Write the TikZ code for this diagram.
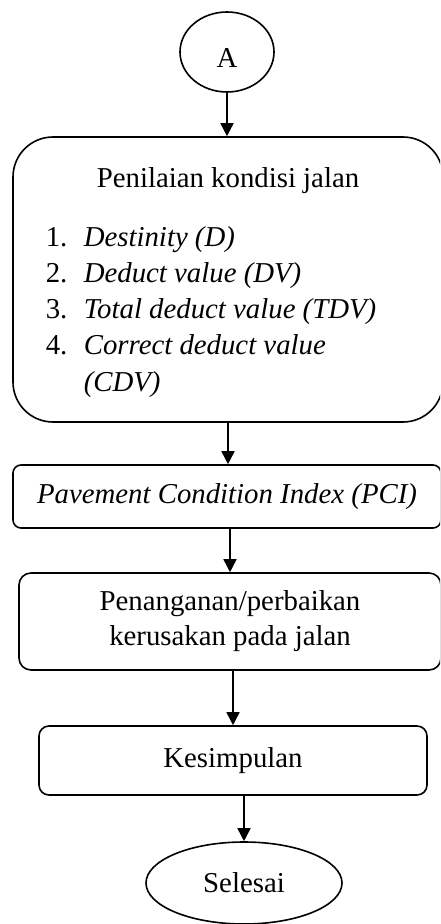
\documentclass[tikz,border=0pt]{standalone}
\usepackage{fontspec}
\setmainfont{Liberation Serif}
\usetikzlibrary{shapes.geometric,arrows.meta}
\begin{document}
\begin{tikzpicture}[x=0.5pt,y=-0.5pt,line width=0.8pt,
  font=\fontsize{14.4}{17.5}\selectfont,
  >={Triangle[width=6.5pt,length=6.5pt]},
  kotak/.style={draw,rounded corners=#1,inner sep=0pt},
  oval/.style={draw,ellipse,inner sep=0pt},
  teks/.style={inner sep=0pt}]
\useasboundingbox (0,0) rectangle (440,924);
\clip (0,0) rectangle (440,924);
% simbol awal
\node[oval,minimum width=47pt,minimum height=40pt,text height=15.5pt] (A) at (227,52) {A};
% penilaian kondisi
\node[kotak=20pt,minimum width=215pt,minimum height=142.5pt] (nilai) at (228,279.5) {};
\node[teks,anchor=base] (judul) at (228,188) {Penilaian kondisi jalan};
\node[teks,anchor=base west] (n1) at (45,247) {1.};
\node[teks,anchor=base west] (t1) at (83,247) {\textit{Destinity (D)}};
\node[teks,anchor=base west] (n2) at (45,283) {2.};
\node[teks,anchor=base west] (t2) at (83,283) {\textit{Deduct value (DV)}};
\node[teks,anchor=base west] (n3) at (45,319) {3.};
\node[teks,anchor=base west] (t3) at (83,319) {\textit{Total deduct value (TDV)}};
\node[teks,anchor=base west] (n4) at (45,355) {4.};
\node[teks,anchor=base west] (t4) at (83,355) {\textit{Correct deduct value}};
\node[teks,anchor=base west] (t5) at (83,391) {\textit{(CDV)}};
% PCI
\node[kotak=4pt,minimum width=214pt,minimum height=31.5pt] (pci) at (227,496.5)
  {\textit{Pavement Condition Index (PCI)}};
% penanganan
\node[kotak=6pt,minimum width=211pt,minimum height=48.5pt,align=center] (tangani) at (230,621.5)
  {Penanganan/perbaikan\\kerusakan pada jalan};
% kesimpulan
\node[kotak=5pt,minimum width=194pt,minimum height=34.5pt] (simpul) at (233,760.5) {Kesimpulan};
% selesai
\node[oval,minimum width=98pt,minimum height=41pt] (selesai) at (244,883) {Selesai};
% panah
\draw[->] (A) -- (A |- nilai.north);
\draw[->] (nilai) -- (nilai |- pci.north);
\draw[->] (pci.south -| tangani) -- (tangani.north);
\draw[->] (tangani.south -| simpul) -- (simpul.north);
\draw[->] (simpul.south -| selesai) -- (selesai.north);
\end{tikzpicture}
\end{document}
